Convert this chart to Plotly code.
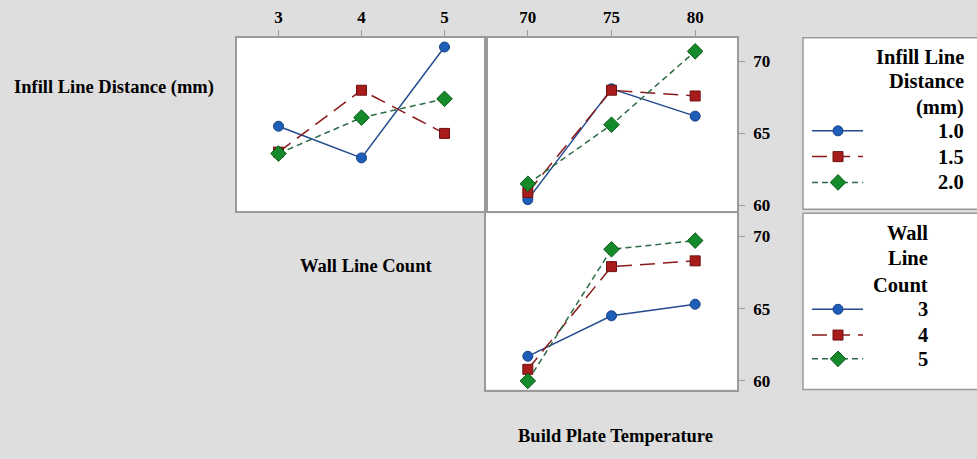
import plotly.graph_objects as go

W, H = 977, 459

# ---- data -------------------------------------------------------------
wall_counts = [3, 4, 5]
temperatures = [70, 75, 80]
infill_levels = ["1.0", "1.5", "2.0"]
wall_levels = ["3", "4", "5"]

# mean response, Infill Line Distance (rows) x Wall Line Count
infill_wall_means = [
    [65.5, 63.3, 71.0],
    [63.7, 68.0, 65.0],
    [63.6, 66.1, 67.4],
]
# mean response, Infill Line Distance (rows) x Build Plate Temperature
infill_temp_means = [
    [60.4, 68.1, 66.2],
    [60.9, 68.0, 67.6],
    [61.5, 65.6, 70.7],
]
# mean response, Wall Line Count (rows) x Build Plate Temperature
wall_temp_means = [
    [61.7, 64.5, 65.3],
    [60.8, 67.9, 68.3],
    [60.0, 69.1, 69.7],
]

# ---- styling ----------------------------------------------------------
FONT = "Liberation Serif"
BG = "#dedede"
BORDER = "#9a9a9a"
styles = [
    dict(line=dict(color="#234a8f", width=1.5, dash="solid"),
         marker=dict(symbol="circle", size=10, color="#1d5fb8",
                     line=dict(color="#1a3f80", width=1))),
    dict(line=dict(color="#8a1a1a", width=1.5, dash="15px,8px"),
         marker=dict(symbol="square", size=10, color="#a81c1c",
                     line=dict(color="#6e1010", width=1))),
    dict(line=dict(color="#2c6b44", width=1.5, dash="6px,4px"),
         marker=dict(symbol="diamond", size=12, color="#148a2a",
                     line=dict(color="#0c5a1a", width=1))),
]


def px_x(p):
    return p / W


def px_y(p):
    return 1 - p / H


fig = go.Figure()

panels = [
    ("x", "y", wall_counts, infill_wall_means),
    ("x2", "y2", temperatures, infill_temp_means),
    ("x3", "y3", temperatures, wall_temp_means),
]
for xa, ya, xs, rows in panels:
    for st, ys in zip(styles, rows):
        fig.add_trace(go.Scatter(x=xs, y=ys, xaxis=xa, yaxis=ya,
                                 mode="lines+markers", showlegend=False,
                                 line=st["line"], marker=st["marker"],
                                 cliponaxis=False))

# ---- legend samples (drawn on a pixel-space overlay axis) --------------
legend_rows = [
    (infill_levels, [132, 158, 184]),
    (wall_levels, [312, 338, 362]),
]
for labels, rows_y in legend_rows:
    for st, lab, yy in zip(styles, labels, rows_y):
        fig.add_trace(go.Scatter(x=[812, 863], y=[yy, yy], xaxis="x4", yaxis="y4",
                                 mode="lines", line=st["line"], showlegend=False,
                                 cliponaxis=False))
        fig.add_trace(go.Scatter(x=[838], y=[yy], xaxis="x4", yaxis="y4",
                                 mode="markers", marker=st["marker"], showlegend=False,
                                 cliponaxis=False))

tick_font = dict(family=FONT, size=17, color="black", weight="bold")
common_axis = dict(showline=True, mirror=True, linecolor=BORDER, linewidth=1.5,
                   showgrid=False, zeroline=False, ticks="outside", ticklen=6,
                   tickcolor=BORDER, tickwidth=1, tickfont=tick_font)

top_dom = [px_y(213), px_y(38)]
bot_dom = [px_y(393), px_y(215)]

fig.update_layout(
    width=W, height=H,
    margin=dict(l=0, r=0, t=0, b=0),
    paper_bgcolor=BG, plot_bgcolor="rgba(0,0,0,0)",
    font=dict(family=FONT, color="black"),
    xaxis=dict(common_axis, domain=[px_x(237), px_x(486)], anchor="y", side="top",
               range=[2.5, 5.5], tickvals=wall_counts),
    yaxis=dict(common_axis, domain=top_dom, anchor="x", range=[59.6, 71.65],
               showticklabels=False, ticks=""),
    xaxis2=dict(common_axis, domain=[px_x(486), px_x(737)], anchor="y2", side="top",
                range=[67.5, 82.5], tickvals=temperatures),
    yaxis2=dict(common_axis, domain=top_dom, anchor="x2", side="right",
                range=[59.6, 71.65], tickvals=[60, 65, 70], ticklabelstandoff=5),
    xaxis3=dict(common_axis, domain=[px_x(486), px_x(737)], anchor="y3",
                range=[67.5, 82.5], showticklabels=False, ticks=""),
    yaxis3=dict(common_axis, domain=bot_dom, anchor="x3", side="right",
                range=[59.4, 71.6], tickvals=[60, 65, 70], ticklabelstandoff=5),
    xaxis4=dict(domain=[0, 1], anchor="y4", range=[0, W], visible=False),
    yaxis4=dict(domain=[0, 1], anchor="x4", range=[H, 0], visible=False),
)

# white panel and legend boxes
for x0, y0, x1, y1, line in [
    (237, 38, 486, 213, False),
    (486, 38, 737, 213, False),
    (486, 215, 737, 393, False),
    (803, 38, 985, 211, True),
    (803, 215, 985, 393, True),
]:
    fig.add_shape(type="rect", xref="paper", yref="paper",
                  x0=px_x(x0), x1=px_x(x1), y0=px_y(y1), y1=px_y(y0),
                  fillcolor="white", layer="below",
                  line=dict(color=BORDER, width=1.5) if line else dict(width=0))


def label(text, x, y, anchor="left", size=18.5):
    fig.add_annotation(text=f"<b>{text}</b>", xref="x4", yref="y4", x=x, y=y,
                       xanchor=anchor, yanchor="middle", showarrow=False,
                       font=dict(family=FONT, size=size, color="black"))


label("Infill Line Distance (mm)", 12, 88)
label("Wall Line Count", 298, 268)
label("Build Plate Temperature", 516, 440)

LEG = 20.5
for text, yy in zip(["Infill Line", "Distance", "(mm)"], [57, 82, 108]):
    label(text, 966, yy, "right", LEG)
for lab, yy in zip(infill_levels, [132, 158, 184]):
    label(lab, 966, yy, "right", LEG)
for text, yy in zip(["Wall", "Line", "Count"], [235, 260, 287]):
    label(text, 930, yy, "right", LEG)
for lab, yy in zip(wall_levels, [312, 338, 362]):
    label(lab, 930, yy, "right", LEG)

fig.write_html("out.html")
